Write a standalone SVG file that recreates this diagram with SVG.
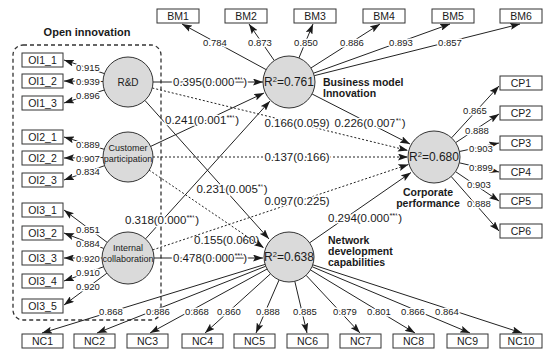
<svg xmlns="http://www.w3.org/2000/svg" width="543" height="353" viewBox="0 0 543 353">
<style>
text{font-family:"Liberation Sans",Arial,sans-serif;fill:#1a1a1a}
.box{fill:#fff;stroke:#333;stroke-width:1}
.bl{font-size:10.5px;text-anchor:middle}
.lv{fill:#dadada;stroke:#333;stroke-width:1}
.ln{stroke:#222;stroke-width:1;fill:none}
.dt{stroke:#222;stroke-width:1;fill:none;stroke-dasharray:2,2}
.ld{font-size:9.5px;text-anchor:middle;stroke:#fff;stroke-width:3;paint-order:stroke;stroke-linejoin:round}
.pl{font-size:11.5px;text-anchor:middle;stroke:#fff;stroke-width:3;paint-order:stroke;stroke-linejoin:round}
.pn{font-size:11.5px}
.nm{font-size:9px;text-anchor:middle}
.r2{font-size:12px;text-anchor:middle}
.tt{font-size:10.5px;font-weight:bold}
.sp{font-size:7.5px}
</style>
<defs>
<marker id="ah" markerWidth="10" markerHeight="7" refX="10" refY="3.5" orient="auto" markerUnits="userSpaceOnUse"><path d="M0,0 L10,3.5 L0,7 L2,3.5 z" fill="#1a1a1a"/></marker>
</defs>

<rect x="13" y="45" width="148" height="275" rx="10" fill="none" stroke="#333" stroke-width="1.3" stroke-dasharray="4,3"/>
<text x="87" y="36" class="tt" text-anchor="middle" style="font-size:11px">Open innovation</text>

<g id="connectors">
<line class="ln" x1="104.4" y1="73.6" x2="64" y2="60" marker-end="url(#ah)"/>
<line class="ln" x1="103" y1="81.5" x2="64" y2="81" marker-end="url(#ah)"/>
<line class="ln" x1="104.3" y1="90" x2="64" y2="103" marker-end="url(#ah)"/>
<line class="ln" x1="104.2" y1="149.3" x2="64" y2="137" marker-end="url(#ah)"/>
<line class="ln" x1="103" y1="157.5" x2="64" y2="158" marker-end="url(#ah)"/>
<line class="ln" x1="104.5" y1="165.7" x2="64" y2="180" marker-end="url(#ah)"/>
<line class="ln" x1="107.2" y1="242.4" x2="64" y2="210" marker-end="url(#ah)"/>
<line class="ln" x1="103.8" y1="248.5" x2="64" y2="233" marker-end="url(#ah)"/>
<line class="ln" x1="102" y1="258" x2="64" y2="258" marker-end="url(#ah)"/>
<line class="ln" x1="103.5" y1="266.8" x2="64" y2="281" marker-end="url(#ah)"/>
<line class="ln" x1="106.9" y1="273.2" x2="64" y2="305" marker-end="url(#ah)"/>
<line class="ln" x1="266.1" y1="69.6" x2="182" y2="24" marker-end="url(#ah)"/>
<line class="ln" x1="274.3" y1="60.6" x2="249" y2="24" marker-end="url(#ah)"/>
<line class="ln" x1="298.9" y1="58" x2="313" y2="24" marker-end="url(#ah)"/>
<line class="ln" x1="310.9" y1="68" x2="380" y2="24" marker-end="url(#ah)"/>
<line class="ln" x1="313.5" y1="73.2" x2="450" y2="24" marker-end="url(#ah)"/>
<line class="ln" x1="314.2" y1="75.7" x2="520" y2="24" marker-end="url(#ah)"/>
<line class="ln" x1="451.6" y1="137.8" x2="499" y2="86" marker-end="url(#ah)"/>
<line class="ln" x1="455.7" y1="142.6" x2="499" y2="114" marker-end="url(#ah)"/>
<line class="ln" x1="459.4" y1="151.5" x2="499" y2="143" marker-end="url(#ah)"/>
<line class="ln" x1="459.3" y1="162.8" x2="499" y2="172" marker-end="url(#ah)"/>
<line class="ln" x1="455.5" y1="171.6" x2="499" y2="201" marker-end="url(#ah)"/>
<line class="ln" x1="451.2" y1="176.5" x2="499" y2="231" marker-end="url(#ah)"/>
<line class="ln" x1="265.1" y1="264.4" x2="42" y2="333" marker-end="url(#ah)"/>
<line class="ln" x1="265.8" y1="266.2" x2="97" y2="333" marker-end="url(#ah)"/>
<line class="ln" x1="267.1" y1="269" x2="150" y2="333" marker-end="url(#ah)"/>
<line class="ln" x1="270.5" y1="273.8" x2="205" y2="333" marker-end="url(#ah)"/>
<line class="ln" x1="279.1" y1="279.9" x2="256" y2="333" marker-end="url(#ah)"/>
<line class="ln" x1="294.8" y1="281.3" x2="307" y2="333" marker-end="url(#ah)"/>
<line class="ln" x1="306.1" y1="275.3" x2="360" y2="333" marker-end="url(#ah)"/>
<line class="ln" x1="310.4" y1="269.9" x2="415" y2="333" marker-end="url(#ah)"/>
<line class="ln" x1="312.1" y1="266.7" x2="470" y2="333" marker-end="url(#ah)"/>
<line class="ln" x1="312.8" y1="264.8" x2="522" y2="333" marker-end="url(#ah)"/>
<line class="ln" x1="153" y1="82" x2="263" y2="82" marker-end="url(#ah)"/>
<line class="ln" x1="150.7" y1="146.4" x2="264" y2="93" marker-end="url(#ah)"/>
<line class="ln" x1="145.6" y1="238.8" x2="270" y2="101" marker-end="url(#ah)"/>
<line class="dt" x1="152.3" y1="88" x2="408" y2="150.5" marker-end="url(#ah)"/>
<line class="dt" x1="153" y1="157" x2="408" y2="157" marker-end="url(#ah)"/>
<line class="dt" x1="152.7" y1="249.9" x2="408.5" y2="164.5" marker-end="url(#ah)"/>
<line class="ln" x1="144.9" y1="100.4" x2="269" y2="239" marker-end="url(#ah)"/>
<line class="dt" x1="149" y1="170" x2="264" y2="248" marker-end="url(#ah)"/>
<line class="ln" x1="154" y1="258" x2="263" y2="258" marker-end="url(#ah)"/>
<line class="ln" x1="312.1" y1="94" x2="410" y2="144" marker-end="url(#ah)"/>
<line class="ln" x1="309.6" y1="242.8" x2="411" y2="172.5" marker-end="url(#ah)"/>

<g>
<text class="ld" x="88" y="71">0.915</text>
<text class="ld" x="88" y="84.5">0.939</text>
<text class="ld" x="88" y="99">0.896</text>
<text class="ld" x="88" y="147.5">0.889</text>
<text class="ld" x="88" y="161.5">0.907</text>
<text class="ld" x="88" y="175">0.834</text>
<text class="ld" x="88" y="233">0.851</text>
<text class="ld" x="88" y="246.5">0.884</text>
<text class="ld" x="88" y="261.5">0.920</text>
<text class="ld" x="88" y="275.5">0.910</text>
<text class="ld" x="88" y="289.5">0.920</text>
<text class="ld" x="215" y="46">0.784</text>
<text class="ld" x="260" y="46">0.873</text>
<text class="ld" x="306" y="46">0.850</text>
<text class="ld" x="352" y="46">0.886</text>
<text class="ld" x="401" y="46">0.893</text>
<text class="ld" x="450" y="46">0.857</text>
<text class="ld" x="475" y="114">0.865</text>
<text class="ld" x="477" y="134">0.888</text>
<text class="ld" x="481" y="152">0.903</text>
<text class="ld" x="481" y="171">0.899</text>
<text class="ld" x="479" y="188">0.903</text>
<text class="ld" x="479" y="207">0.888</text>
<text class="ld" x="111" y="315">0.868</text>
<text class="ld" x="158" y="315">0.886</text>
<text class="ld" x="197" y="315">0.868</text>
<text class="ld" x="229" y="315">0.860</text>
<text class="ld" x="268" y="315">0.888</text>
<text class="ld" x="305" y="315">0.885</text>
<text class="ld" x="345" y="315">0.879</text>
<text class="ld" x="379" y="315">0.801</text>
<text class="ld" x="413" y="315">0.866</text>
<text class="ld" x="447" y="315">0.864</text>
</g>
<g>
<text class="pl" x="210" y="86">0.395(0.000<tspan class="sp" baseline-shift="super">***</tspan>)</text>
<text class="pl" x="202" y="124">0.241(0.001<tspan class="sp" baseline-shift="super">***</tspan>)</text>
<text class="pl" x="162" y="224">0.318(0.000<tspan class="sp" baseline-shift="super">***</tspan>)</text>
<text class="pl" x="297" y="127">0.166(0.059)</text>
<text class="pl" x="297" y="161">0.137(0.166)</text>
<text class="pl" x="297" y="205">0.097(0.225)</text>
<text class="pl" x="232" y="193">0.231(0.005<tspan class="sp" baseline-shift="super">**</tspan>)</text>
<text class="pn" x="194" y="244">0.155(0.060)</text>
<text class="pl" x="210" y="262">0.478(0.000<tspan class="sp" baseline-shift="super">***</tspan>)</text>
<text class="pl" x="370" y="127">0.226(0.007<tspan class="sp" baseline-shift="super">**</tspan>)</text>
<text class="pl" x="365" y="222">0.294(0.000<tspan class="sp" baseline-shift="super">***</tspan>)</text>
</g>
</g>

<g id="node-rd"><circle class="lv" cx="128" cy="82" r="25"/><text class="nm" x="128" y="85.5" style="font-size:10px">R&amp;D</text></g>
<g id="node-cust"><circle class="lv" cx="128" cy="157" r="25"/><text class="nm" x="128" y="151">Customer</text><text class="nm" x="128" y="162">participation</text></g>
<g id="node-ic"><circle class="lv" cx="128" cy="258" r="26"/><text class="nm" x="128" y="251">Internal</text><text class="nm" x="128" y="262">collaboration</text></g>
<g id="node-bmi"><circle class="lv" cx="289" cy="82" r="26"/><text class="r2" x="289" y="86">R<tspan class="sp" baseline-shift="super">2</tspan>=0.761</text><text class="tt" x="323" y="86">Business model</text><text class="tt" x="323" y="97">Innovation</text></g>
<g id="node-cp"><circle class="lv" cx="434" cy="157" r="26"/><text class="r2" x="434" y="161">R<tspan class="sp" baseline-shift="super">2</tspan>=0.680</text><text class="tt" x="428" y="196" text-anchor="middle">Corporate</text><text class="tt" x="428" y="207" text-anchor="middle">performance</text></g>
<g id="node-ndc"><circle class="lv" cx="289" cy="257" r="25"/><text class="r2" x="289" y="261">R<tspan class="sp" baseline-shift="super">2</tspan>=0.638</text><text class="tt" x="328" y="244">Network</text><text class="tt" x="328" y="255">development</text><text class="tt" x="328" y="266">capabilities</text></g>

<g id="OI1_1"><rect class="box" x="22" y="53" width="41" height="14"/><text class="bl" x="42.5" y="64">OI1_1</text></g>
<g id="OI1_2"><rect class="box" x="22" y="74" width="41" height="14"/><text class="bl" x="42.5" y="85">OI1_2</text></g>
<g id="OI1_3"><rect class="box" x="22" y="96" width="41" height="14"/><text class="bl" x="42.5" y="107">OI1_3</text></g>
<g id="OI2_1"><rect class="box" x="22" y="130" width="41" height="14"/><text class="bl" x="42.5" y="141">OI2_1</text></g>
<g id="OI2_2"><rect class="box" x="22" y="151" width="41" height="14"/><text class="bl" x="42.5" y="162">OI2_2</text></g>
<g id="OI2_3"><rect class="box" x="22" y="173" width="41" height="14"/><text class="bl" x="42.5" y="184">OI2_3</text></g>
<g id="OI3_1"><rect class="box" x="22" y="203" width="41" height="14"/><text class="bl" x="42.5" y="214">OI3_1</text></g>
<g id="OI3_2"><rect class="box" x="22" y="226" width="41" height="14"/><text class="bl" x="42.5" y="237">OI3_2</text></g>
<g id="OI3_3"><rect class="box" x="22" y="251" width="41" height="14"/><text class="bl" x="42.5" y="262">OI3_3</text></g>
<g id="OI3_4"><rect class="box" x="22" y="274" width="41" height="14"/><text class="bl" x="42.5" y="285">OI3_4</text></g>
<g id="OI3_5"><rect class="box" x="22" y="299" width="41" height="14"/><text class="bl" x="42.5" y="310">OI3_5</text></g>

<g id="BM1"><rect class="box" x="157" y="9" width="42" height="14"/><text class="bl" x="178" y="20">BM1</text></g>
<g id="BM2"><rect class="box" x="225" y="9" width="42" height="14"/><text class="bl" x="246" y="20">BM2</text></g>
<g id="BM3"><rect class="box" x="294" y="9" width="42" height="14"/><text class="bl" x="315" y="20">BM3</text></g>
<g id="BM4"><rect class="box" x="363" y="9" width="42" height="14"/><text class="bl" x="384" y="20">BM4</text></g>
<g id="BM5"><rect class="box" x="432" y="9" width="42" height="14"/><text class="bl" x="453" y="20">BM5</text></g>
<g id="BM6"><rect class="box" x="500" y="9" width="42" height="14"/><text class="bl" x="521" y="20">BM6</text></g>

<g id="CP1"><rect class="box" x="500" y="76" width="42" height="14"/><text class="bl" x="521" y="87">CP1</text></g>
<g id="CP2"><rect class="box" x="500" y="106" width="42" height="14"/><text class="bl" x="521" y="117">CP2</text></g>
<g id="CP3"><rect class="box" x="500" y="136" width="42" height="14"/><text class="bl" x="521" y="147">CP3</text></g>
<g id="CP4"><rect class="box" x="500" y="165" width="42" height="14"/><text class="bl" x="521" y="176">CP4</text></g>
<g id="CP5"><rect class="box" x="500" y="194" width="42" height="14"/><text class="bl" x="521" y="205">CP5</text></g>
<g id="CP6"><rect class="box" x="500" y="224" width="42" height="14"/><text class="bl" x="521" y="235">CP6</text></g>

<g id="NC1"><rect class="box" x="22" y="334" width="41" height="14"/><text class="bl" x="42.5" y="345">NC1</text></g>
<g id="NC2"><rect class="box" x="74" y="334" width="41" height="14"/><text class="bl" x="94.5" y="345">NC2</text></g>
<g id="NC3"><rect class="box" x="127" y="334" width="41" height="14"/><text class="bl" x="147.5" y="345">NC3</text></g>
<g id="NC4"><rect class="box" x="182" y="334" width="41" height="14"/><text class="bl" x="202.5" y="345">NC4</text></g>
<g id="NC5"><rect class="box" x="234" y="334" width="41" height="14"/><text class="bl" x="254.5" y="345">NC5</text></g>
<g id="NC6"><rect class="box" x="287" y="334" width="41" height="14"/><text class="bl" x="307.5" y="345">NC6</text></g>
<g id="NC7"><rect class="box" x="340" y="334" width="41" height="14"/><text class="bl" x="360.5" y="345">NC7</text></g>
<g id="NC8"><rect class="box" x="393" y="334" width="41" height="14"/><text class="bl" x="413.5" y="345">NC8</text></g>
<g id="NC9"><rect class="box" x="447" y="334" width="41" height="14"/><text class="bl" x="467.5" y="345">NC9</text></g>
<g id="NC10"><rect class="box" x="500" y="334" width="42" height="14"/><text class="bl" x="521" y="345">NC10</text></g>
</svg>
